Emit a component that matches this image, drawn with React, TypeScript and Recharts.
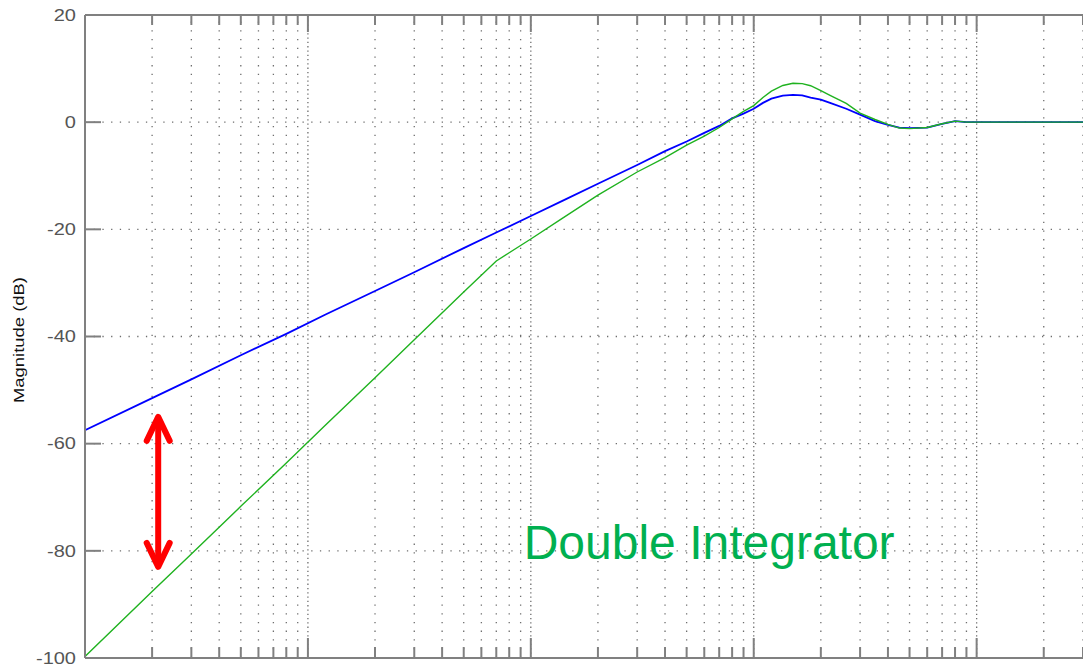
import { LineChart, Line, XAxis, YAxis, ReferenceLine, ReferenceDot } from "recharts";

// frequency grid (rad/s) and magnitude of both loops in dB
const FREQ = [1, 2, 3, 5, 8, 12, 20, 30, 50, 70, 100, 140, 200, 300, 400, 500, 600, 700, 800, 900, 1000, 1100, 1200, 1350, 1500, 1650, 1800, 2000, 2200, 2600, 3000, 3500, 4000, 4500, 5000, 6000, 7000, 8000, 9000, 10000, 20000, 30000];
const SINGLE_DB = [-57.5, -51.5, -48, -43.5, -39.5, -35.9, -31.5, -28, -23.5, -20.6, -17.5, -14.6, -11.5, -8, -5.4, -3.6, -2.0, -0.7, 0.7, 1.6, 2.5, 3.6, 4.4, 4.95, 5.1, 5.0, 4.6, 4.2, 3.6, 2.5, 1.4, 0.2, -0.5, -1.0, -1.1, -1.0, -0.3, 0.2, 0, 0, 0, 0];
const DOUBLE_DB = [-99.7, -87.6, -80.6, -71.7, -63.6, -56.5, -47.7, -40.6, -31.7, -25.9, -21.8, -17.8, -13.6, -9.3, -6.6, -4.3, -2.6, -1.0, 0.6, 2.0, 3.1, 4.6, 5.8, 6.85, 7.25, 7.2, 6.8, 5.9, 5.0, 3.5, 1.7, 0.5, -0.4, -1.1, -1.2, -1.0, -0.3, 0.2, 0, 0, 0, 0];

const DECADES = [1, 10, 100, 1000, 10000];
const MULTIPLIERS = [1, 2, 3, 4, 5, 6, 7, 8, 9];
const Y_TICKS = [-100, -80, -60, -40, -20, 0, 20];
const Y_GRID = [-80, -60, -40, -20, 0];

// gap arrow between the two curves, and the annotation
const ARROW_FREQ = 2.13;
const ARROW_TOP_DB = -55;
const ARROW_BOTTOM_DB = -83;
const NOTE_FREQ = 92.9;
const NOTE_DB = -81.5;
const NOTE_TEXT = "Double Integrator";

const X_TICKS = DECADES.flatMap((d) => MULTIPLIERS.map((m) => m * d)).filter((v) => v <= 30000);

const rows = FREQ.map((f, i) => ({ f, single: SINGLE_DB[i], double: DOUBLE_DB[i] }));

const PLOT_TOP = 15;
const PLOT_BOTTOM = 658;
const FRAME = "#808080";
const GRID = "#6e6e6e";
const FONT = "'Liberation Sans', Arial, sans-serif";

// inward tick marks on the bottom and top edges
function XTick(props: any) {
  const { x, payload } = props;
  const major = DECADES.includes(payload.value);
  return (
    <g>
      <line x1={x} x2={x} y1={PLOT_BOTTOM} y2={PLOT_BOTTOM - (major ? 20 : 11)} stroke={FRAME} strokeWidth={2} />
      <line x1={x} x2={x} y1={PLOT_TOP} y2={PLOT_TOP + (major ? 17 : 10)} stroke={FRAME} strokeWidth={2} />
    </g>
  );
}

function YTick(props: any) {
  const { x, y, payload } = props;
  return (
    <g>
      <line x1={x + 9} x2={x + 25} y1={y} y2={y} stroke={FRAME} strokeWidth={2} />
      <text transform={`translate(${x},${y}) scale(1.25,1)`} dy="0.36em" textAnchor="end" fontSize={16} fill="#555" fontFamily={FONT}>
        {payload.value}
      </text>
    </g>
  );
}

function YLabel() {
  return (
    <text
      transform="translate(19,340) rotate(-90)"
      dy="0.36em"
      textAnchor="middle"
      fontSize={15}
      textLength={126}
      lengthAdjust="spacingAndGlyphs"
      fill="#111"
      fontFamily={FONT}
    >
      Magnitude (dB)
    </text>
  );
}

function GapArrow(props: any) {
  const { x1, y1, y2 } = props;
  const x = x1;
  const top = Math.min(y1, y2);
  const bottom = Math.max(y1, y2);
  return (
    <g stroke="#ff0000" strokeWidth={6} fill="none" strokeLinejoin="round" strokeLinecap="round">
      <path d={`M${x},${top + 2} L${x},${bottom - 2}`} />
      <path d={`M${x - 11.5},${top + 24} L${x},${top} L${x + 11.5},${top + 24}`} />
      <path d={`M${x - 11.5},${bottom - 24} L${x},${bottom} L${x + 11.5},${bottom - 24}`} />
    </g>
  );
}

function NoteText(props: any) {
  return (
    <text x={props.cx} y={props.cy} fontSize={48} fill="#00b050" fontFamily={FONT}>
      {NOTE_TEXT}
    </text>
  );
}

export default function App() {
  return (
    <div style={{ position: "fixed", left: 0, top: 0, width: 1083, height: 666, overflow: "hidden", background: "#fff" }}>
      <LineChart width={1083} height={688} data={rows} margin={{ top: PLOT_TOP, right: 0, left: 0, bottom: 0 }}>
        <XAxis
          dataKey="f"
          type="number"
          scale="log"
          domain={[1, 30000]}
          allowDataOverflow
          ticks={X_TICKS}
          interval={0}
          height={30}
          axisLine={{ stroke: FRAME, strokeWidth: 2 }}
          tickLine={false}
          tickSize={0}
          tick={<XTick />}
        />
        <YAxis
          type="number"
          domain={[-100, 20]}
          ticks={Y_TICKS}
          interval={0}
          width={85}
          axisLine={{ stroke: FRAME, strokeWidth: 2 }}
          tickLine={false}
          tickSize={0}
          tickMargin={9}
          tick={<YTick />}
          label={<YLabel />}
        />
        {X_TICKS.filter((v) => v > 1).map((v) => (
          <ReferenceLine
            key={`vx${v}`}
            x={v}
            stroke={GRID}
            strokeWidth={1.3}
            strokeDasharray={DECADES.includes(v) ? "1.3 3" : "1.3 7.4"}
          />
        ))}
        {Y_GRID.map((v) => (
          <ReferenceLine key={`hy${v}`} y={v} stroke={GRID} strokeWidth={1.3} strokeDasharray="1.3 7.4" />
        ))}
        <ReferenceLine y={20} stroke={FRAME} strokeWidth={2} />
        <Line type="linear" dataKey="single" stroke="#0000ff" strokeWidth={1.8} dot={false} isAnimationActive={false} />
        <Line type="linear" dataKey="double" stroke="#1fb21f" strokeWidth={1.4} dot={false} isAnimationActive={false} />
        <ReferenceLine
          segment={[
            { x: ARROW_FREQ, y: ARROW_TOP_DB },
            { x: ARROW_FREQ, y: ARROW_BOTTOM_DB },
          ]}
          shape={<GapArrow />}
        />
        <ReferenceDot x={NOTE_FREQ} y={NOTE_DB} r={1} shape={<NoteText />} />
      </LineChart>
    </div>
  );
}
